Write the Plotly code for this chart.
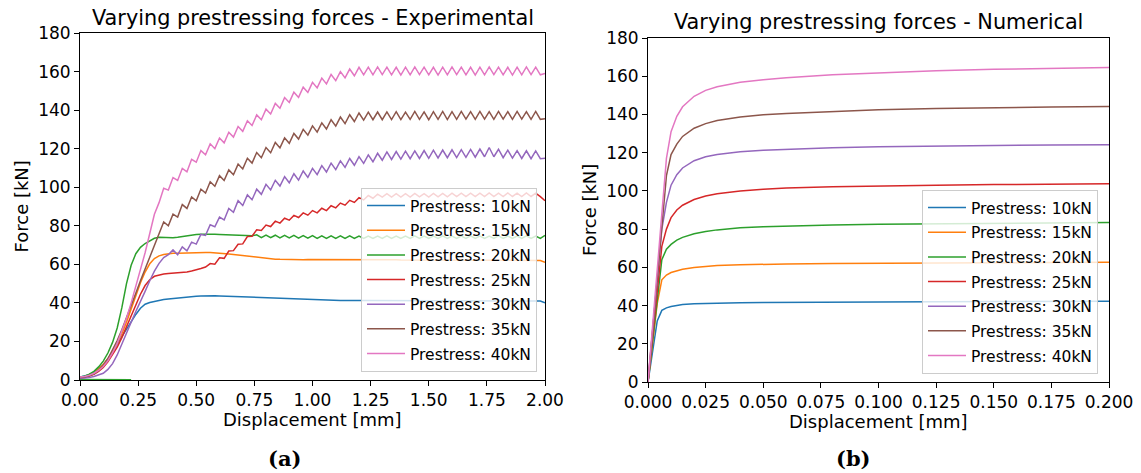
import numpy as np
import plotly.graph_objects as go

# ---------------- experimental data (displacement sampled every 0.02 mm) ----------------
DISP_EXP = np.round(np.arange(101) * 0.02, 2)

EXP_10 = [1.5, 2.0, 2.8, 4.0, 5.8, 8.0, 11.0, 14.5, 18.5, 22.5,
          26.5, 30.5, 34.0, 37.2, 39.3, 40.2, 40.8, 41.3, 41.7, 42.0,
          42.3, 42.6, 42.9, 43.1, 43.3, 43.5, 43.6, 43.7, 43.7, 43.7,
          43.6, 43.5, 43.4, 43.3, 43.2, 43.1, 43.0, 42.9, 42.8, 42.7,
          42.6, 42.5, 42.4, 42.3, 42.2, 42.1, 42.0, 41.9, 41.8, 41.7,
          41.6, 41.5, 41.5, 41.4, 41.4, 41.3, 41.3, 41.3, 41.2, 41.2,
          41.2, 41.2, 41.2, 41.2, 41.2, 41.2, 41.2, 41.2, 41.2, 41.2,
          41.2, 41.1, 41.1, 41.1, 41.1, 41.1, 41.1, 41.1, 41.1, 41.1,
          41.1, 41.1, 41.1, 41.1, 41.1, 41.1, 41.0, 41.0, 41.0, 41.0,
          41.0, 41.0, 41.0, 41.0, 41.0, 41.0, 41.0, 41.0, 41.0, 41.0,
          40.0]

EXP_15 = [1.2, 1.6, 2.3, 3.4, 5.5, 8.0, 11.0, 14.5, 19.0, 24.0,
          30.0, 37.0, 44.0, 50.5, 56.0, 60.3, 63.0, 64.4, 65.1, 65.5,
          65.7, 65.8, 65.9, 66.0, 66.1, 66.1, 66.2, 66.2, 66.1, 66.0,
          65.9, 65.7, 65.4, 65.1, 64.8, 64.5, 64.2, 63.9, 63.6, 63.3,
          63.1, 62.9, 62.7, 62.6, 62.5, 62.4, 62.4, 62.4, 62.4, 62.5,
          62.5, 62.6, 62.6, 62.7, 62.7, 62.7, 62.7, 62.6, 62.6, 62.6,
          62.5, 62.5, 62.5, 62.5, 62.4, 62.4, 62.4, 62.4, 62.4, 62.3,
          62.3, 62.3, 62.3, 62.3, 62.3, 62.3, 62.2, 62.2, 62.2, 62.2,
          62.2, 62.2, 62.2, 62.1, 62.1, 62.1, 62.1, 62.1, 62.1, 62.0,
          62.0, 62.0, 62.0, 62.0, 62.0, 62.0, 62.0, 62.0, 62.0, 62.0,
          61.0]

EXP_20 = [1.5, 2.0, 3.0, 4.5, 6.8, 9.8, 14.0, 19.5, 27.0, 37.5,
          50.0, 59.5, 65.5, 68.8, 70.8, 72.3, 73.5, 74.1, 74.0, 73.8,
          73.8, 74.0, 74.4, 74.8, 75.2, 75.5, 75.6, 75.7, 75.7, 75.6,
          75.5, 75.4, 75.3, 75.2, 75.1, 75.0, 74.9, 74.8, 75.3, 73.9,
          75.2, 73.8, 75.1, 73.7, 75.0, 73.7, 75.0, 73.6, 74.9, 73.6,
          74.9, 73.5, 74.8, 73.5, 74.8, 73.5, 74.8, 73.4, 74.8, 73.4,
          74.7, 73.4, 74.7, 73.4, 74.7, 73.5, 74.8, 73.4, 74.7, 73.4,
          74.7, 73.4, 74.8, 73.5, 74.7, 73.4, 74.7, 73.4, 74.8, 73.4,
          74.7, 73.4, 74.7, 73.5, 74.8, 73.4, 74.7, 73.4, 74.7, 73.4,
          74.8, 73.5, 74.7, 73.4, 74.7, 73.4, 74.8, 73.4, 74.7, 73.5,
          75.0]
# short zero-force segment recorded before the 20 kN loading
EXP_20_PRE_X = [0.22, 0.0]
EXP_20_PRE_F = [0.1, 0.3]

EXP_25 = [1.0, 1.3, 2.0, 3.0, 4.5, 6.5, 9.5, 13.0, 17.0, 22.0,
          27.5, 33.0, 39.0, 44.5, 49.0, 52.0, 53.8, 54.6, 55.0, 55.2,
          55.3, 55.5, 55.7, 56.0, 56.5, 57.0, 57.8, 58.6, 60.4, 60.1,
          63.4, 63.1, 66.9, 67.1, 70.4, 70.6, 74.4, 74.6, 77.9, 77.6,
          80.4, 79.6, 82.4, 81.4, 83.9, 82.9, 85.4, 84.3, 86.7, 85.5,
          87.9, 86.7, 89.1, 87.9, 90.4, 89.3, 91.8, 90.7, 93.2, 92.1,
          94.6, 93.4, 95.7, 94.3, 96.4, 94.9, 96.7, 94.9, 96.7, 94.9,
          96.7, 94.9, 96.8, 95.0, 96.7, 94.9, 96.8, 95.0, 96.8, 95.0,
          96.9, 95.1, 96.9, 95.1, 96.9, 95.1, 96.9, 95.1, 97.0, 95.1,
          96.9, 95.1, 97.0, 95.2, 96.9, 95.1, 97.0, 95.2, 96.9, 95.1,
          93.0]

EXP_30 = [0.8, 1.0, 1.3, 1.8, 2.5, 3.5, 5.5, 8.5, 13.0, 19.0,
          24.0, 30.0, 35.5, 40.5, 46.0, 51.5, 56.5, 60.5, 63.5, 65.0,
          67.5, 65.0, 69.0, 67.0, 71.5, 70.5, 75.5, 75.0, 80.5, 79.5,
          84.5, 83.0, 89.0, 87.0, 93.0, 90.5, 96.0, 93.5, 99.0, 96.3,
          101.5, 98.6, 103.6, 100.6, 105.5, 102.3, 107.0, 103.7, 108.4, 105.1,
          109.8, 106.5, 111.2, 107.9, 112.5, 109.1, 113.7, 110.3, 114.9, 111.4,
          115.9, 112.4, 116.8, 113.2, 117.6, 114.0, 118.3, 114.4, 118.5, 114.6,
          118.7, 114.8, 118.8, 114.9, 119.0, 115.0, 119.2, 115.2, 119.3, 115.3,
          119.4, 115.4, 119.5, 115.5, 119.6, 115.6, 119.8, 115.8, 120.6, 115.8,
          119.7, 115.3, 119.2, 115.1, 119.0, 114.9, 118.9, 114.8, 118.8, 114.8,
          115.0]

EXP_35 = [1.2, 1.5, 2.2, 3.2, 5.0, 7.5, 11.0, 15.5, 20.5, 26.0,
          32.0, 38.5, 45.0, 51.5, 57.5, 63.0, 69.5, 76.0, 82.0, 80.0,
          86.0, 84.5, 91.0, 89.0, 95.0, 93.0, 99.0, 97.0, 102.8, 100.5,
          106.0, 103.5, 109.0, 106.5, 112.0, 109.5, 115.0, 112.5, 118.0, 115.3,
          120.6, 117.9, 123.2, 120.4, 125.6, 122.8, 127.9, 125.0, 130.0, 127.0,
          131.8, 128.6, 133.4, 130.2, 135.0, 131.7, 136.4, 133.0, 137.6, 134.1,
          138.5, 134.8, 138.9, 135.0, 139.0, 135.0, 139.1, 135.1, 139.2, 135.1,
          139.0, 135.2, 139.3, 135.2, 139.1, 135.0, 139.2, 135.2, 139.3, 135.1,
          139.2, 135.2, 139.3, 135.3, 139.2, 135.2, 139.3, 135.3, 139.2, 135.2,
          139.3, 135.3, 139.2, 135.2, 139.3, 135.3, 139.2, 135.2, 139.3, 135.2,
          135.5]

EXP_40 = [1.5, 1.8, 2.5, 3.5, 5.0, 7.0, 10.0, 14.0, 19.0, 25.0,
          32.0, 40.0, 48.5, 57.0, 66.0, 76.0, 86.0, 92.0, 99.5, 98.5,
          105.0, 103.5, 109.8, 108.0, 114.5, 113.0, 119.0, 116.8, 122.5, 120.0,
          125.5, 123.0, 128.5, 126.0, 131.5, 129.0, 134.5, 132.0, 137.5, 135.0,
          140.5, 138.0, 143.5, 141.0, 146.5, 144.0, 149.3, 146.6, 151.9, 149.2,
          154.4, 151.5, 156.6, 153.6, 158.5, 155.3, 160.0, 156.7, 161.3, 157.8,
          162.2, 158.3, 162.3, 158.3, 162.4, 158.4, 162.3, 158.3, 162.2, 158.2,
          162.3, 158.3, 162.4, 158.4, 162.3, 158.3, 162.2, 158.2, 162.3, 158.3,
          162.4, 158.4, 162.3, 158.3, 162.2, 158.2, 162.3, 158.3, 162.4, 158.4,
          162.3, 158.3, 162.2, 158.2, 162.3, 158.3, 162.4, 158.4, 162.3, 158.3,
          159.0]

# ---------------- numerical data ----------------
DISP_NUM = [0.0, 0.002, 0.004, 0.006, 0.008, 0.010, 0.0125, 0.015, 0.02, 0.025,
            0.03, 0.04, 0.05, 0.06, 0.08, 0.1, 0.125, 0.15, 0.175, 0.2]

NUM_10 = [0.0, 16.0, 32.0, 37.5, 38.8, 39.5, 40.1, 40.5, 40.9, 41.1,
          41.3, 41.5, 41.6, 41.7, 41.8, 41.9, 42.0, 42.1, 42.2, 42.3]
NUM_15 = [0.0, 20.0, 41.0, 53.5, 56.0, 57.3, 58.3, 59.0, 59.9, 60.5,
          60.9, 61.3, 61.6, 61.8, 62.0, 62.2, 62.3, 62.4, 62.5, 62.6]
NUM_20 = [0.0, 22.0, 45.0, 64.0, 69.5, 72.0, 74.2, 75.7, 77.6, 78.8,
          79.6, 80.7, 81.3, 81.7, 82.2, 82.5, 82.8, 83.0, 83.2, 83.4]
NUM_25 = [0.0, 24.0, 50.0, 71.0, 80.0, 86.0, 90.0, 92.5, 95.5, 97.3,
          98.5, 100.0, 100.9, 101.5, 102.2, 102.7, 103.0, 103.3, 103.5, 103.7]
NUM_30 = [0.0, 26.0, 54.0, 80.0, 94.0, 103.0, 108.5, 112.0, 115.8, 117.9,
          119.1, 120.5, 121.3, 121.8, 122.6, 123.1, 123.5, 123.8, 124.0, 124.2]
NUM_35 = [0.0, 27.0, 56.0, 85.0, 108.0, 119.0, 124.5, 128.5, 132.8, 135.2,
          136.8, 138.7, 139.8, 140.5, 141.6, 142.5, 143.1, 143.6, 143.9, 144.2]
NUM_40 = [0.0, 28.0, 57.0, 88.0, 117.0, 131.0, 139.0, 144.0, 149.5, 152.6,
          154.5, 156.8, 158.2, 159.2, 160.8, 161.9, 162.9, 163.6, 164.1, 164.5]

LABELS = ["Prestress: 10kN", "Prestress: 15kN", "Prestress: 20kN", "Prestress: 25kN",
          "Prestress: 30kN", "Prestress: 35kN", "Prestress: 40kN"]
COLORS = ["#1f77b4", "#ff7f0e", "#2ca02c", "#d62728", "#9467bd", "#8c564b", "#e377c2"]

EXP_SERIES = [EXP_10, EXP_15, EXP_20, EXP_25, EXP_30, EXP_35, EXP_40]
NUM_SERIES = [NUM_10, NUM_15, NUM_20, NUM_25, NUM_30, NUM_35, NUM_40]

FONT = "DejaVu Sans"
W, H = 1141, 473

fig = go.Figure()

for k, (lab, col, ys) in enumerate(zip(LABELS, COLORS, EXP_SERIES)):
    if k == 2:
        fig.add_trace(go.Scatter(x=EXP_20_PRE_X, y=EXP_20_PRE_F, mode="lines",
                                 line=dict(color=col, width=1.5), showlegend=False,
                                 xaxis="x", yaxis="y", hoverinfo="skip"))
    fig.add_trace(go.Scatter(x=DISP_EXP, y=ys, mode="lines", name=lab,
                             line=dict(color=col, width=1.5),
                             legend="legend", legendgroup="e%d" % k,
                             xaxis="x", yaxis="y"))

for k, (lab, col, ys) in enumerate(zip(LABELS, COLORS, NUM_SERIES)):
    fig.add_trace(go.Scatter(x=DISP_NUM, y=ys, mode="lines", name=lab,
                             line=dict(color=col, width=1.5),
                             legend="legend2", legendgroup="n%d" % k,
                             xaxis="x2", yaxis="y2"))


def px_x(p):
    return p / W


def px_y(p):
    return 1 - p / H


axis_common = dict(showline=True, mirror=True, linecolor="black", linewidth=1,
                   ticks="outside", ticklen=5, tickwidth=1, tickcolor="black",
                   showgrid=False, zeroline=False, automargin=False,
                   tickfont=dict(family=FONT, size=17, color="black"))

legend_common = dict(bgcolor="rgba(255,255,255,0.8)", bordercolor="#cccccc", borderwidth=1,
                     font=dict(family=FONT, size=15.5, color="black"),
                     xanchor="right", yanchor="bottom", tracegroupgap=1.5,
                     itemwidth=38)

fig.update_layout(
    width=W, height=H,
    margin=dict(l=0, r=0, t=0, b=0, autoexpand=False),
    paper_bgcolor="white", plot_bgcolor="white",
    font=dict(family=FONT, color="black"),
    xaxis=dict(domain=[px_x(80), px_x(545)], range=[0, 2.0], tickvals=[0, 0.25, 0.5, 0.75, 1.0, 1.25, 1.5, 1.75, 2.0],
               tickformat=".2f", anchor="y", **axis_common),
    yaxis=dict(domain=[px_y(380), px_y(33)], range=[0, 180], dtick=20, anchor="x", **axis_common),
    xaxis2=dict(domain=[px_x(648), px_x(1109)], range=[0, 0.2],
                tickvals=[0, 0.025, 0.05, 0.075, 0.1, 0.125, 0.15, 0.175, 0.2],
                tickformat=".3f", anchor="y2", **axis_common),
    yaxis2=dict(domain=[px_y(382), px_y(38)], range=[0, 180], dtick=20, anchor="x2", **axis_common),
    legend=dict(x=px_x(537), y=px_y(372), **legend_common),
    legend2=dict(x=px_x(1098), y=px_y(374), **legend_common),
    showlegend=True,
)

annotations = [
    dict(text="Varying prestressing forces - Experimental", x=px_x(312.5), y=px_y(18),
         font=dict(family=FONT, size=20.8)),
    dict(text="Varying prestressing forces - Numerical", x=px_x(878.5), y=px_y(22),
         font=dict(family=FONT, size=20.8)),
    dict(text="Displacement [mm]", x=px_x(312.5), y=px_y(419), font=dict(family=FONT, size=18)),
    dict(text="Displacement [mm]", x=px_x(878.5), y=px_y(421), font=dict(family=FONT, size=18)),
    dict(text="Force [kN]", x=px_x(21), y=px_y(206.5), textangle=-90, font=dict(family=FONT, size=18)),
    dict(text="Force [kN]", x=px_x(590), y=px_y(210), textangle=-90, font=dict(family=FONT, size=18)),
    dict(text="<b>(a)</b>", x=px_x(284), y=px_y(458), font=dict(family="DejaVu Serif", size=21)),
    dict(text="<b>(b)</b>", x=px_x(853), y=px_y(458), font=dict(family="DejaVu Serif", size=21)),
]
for a in annotations:
    a.update(xref="paper", yref="paper", showarrow=False, xanchor="center", yanchor="middle")
    a["font"]["color"] = "black"
fig.update_layout(annotations=annotations)

fig.write_html("out.html")
